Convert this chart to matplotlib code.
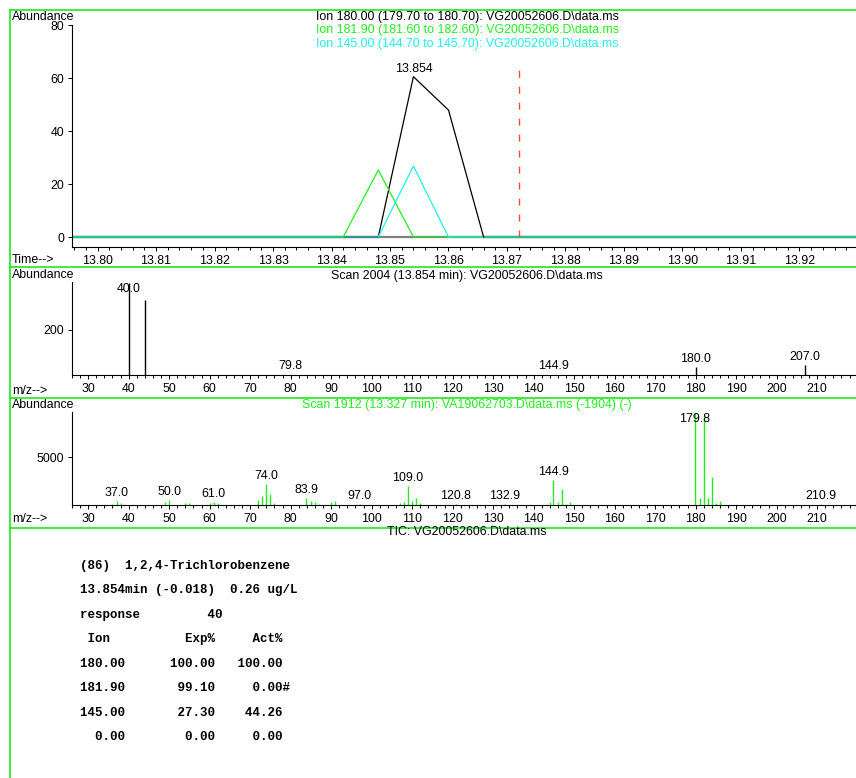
import numpy as np
import matplotlib
matplotlib.use("Agg")
import matplotlib.pyplot as plt
from matplotlib.lines import Line2D
from matplotlib.ticker import MultipleLocator, FormatStrFormatter

plt.rcParams['font.family'] = ['Liberation Sans', 'DejaVu Sans']

W, H = 856, 778

# extracted ion chromatograms (time in min, abundance)
scan_time = [13.794, 13.842, 13.848, 13.854, 13.860, 13.866, 13.932]
ion_180 = [0, 0, 0, 60.5, 47.9, 0, 0]
ion_181_9 = [0, 0, 25.3, 0, 0, 0, 0]
ion_145 = [0, 0, 0, 26.8, 0, 0, 0]
eic_titles = ["Ion 180.00 (179.70 to 180.70): VG20052606.D\\data.ms",
              "Ion 181.90 (181.60 to 182.60): VG20052606.D\\data.ms",
              "Ion 145.00 (144.70 to 145.70): VG20052606.D\\data.ms"]

# compound result
compound = "(86)  1,2,4-Trichlorobenzene"
rt_found = 13.854
rt_delta = -0.018
amount = 0.26
response = 40
qual_ions = [180.00, 181.90, 145.00, 0.00]
exp_pct = [100.00, 99.10, 27.30, 0.00]
act_pct = [100.00, 0.00, 44.26, 0.00]
qual_flag = ["", "#", "", ""]

# scan 2004 of the sample
scan_mz = [40.0, 44.0, 79.8, 144.9, 180.0, 207.0]
scan_ab = [410, 333, 2, 2, 37, 44]
scan_labels = [40.0, 79.8, 144.9, 180.0, 207.0]

# library reference scan 1912
ref_mz = [36, 37.0, 38, 49, 50.0, 54, 55, 60, 61.0, 62, 72, 73, 74.0, 75, 76,
          83.9, 85, 86, 87, 90, 91, 97.0, 107, 108, 109.0, 110, 111, 112,
          120.8, 132.9, 144, 144.9, 146, 147, 148, 149,
          179.8, 181, 182, 183, 184, 185, 186, 210.9]
ref_ab = [140, 420, 210, 315, 525, 245, 245, 245, 350, 175, 490, 960, 2240, 1155, 170,
          700, 385, 300, 130, 350, 370, 90, 180, 350, 2025, 420, 700, 170,
          60, 60, 315, 2620, 350, 1680, 140, 350,
          9780, 700, 9370, 700, 2970, 175, 420, 60]
ref_labels = [37.0, 50.0, 61.0, 74.0, 83.9, 97.0, 109.0, 120.8, 132.9, 144.9, 179.8, 210.9]

GREEN = '#22ee22'
CYAN = '#22eeee'
FS = 8.9


def fx(x):
    return x / W


def fy(y):
    return 1 - y / H


def panel(left, top, right, bottom):
    ax = fig.add_axes([fx(left), fy(bottom), (right - left) / W, (bottom - top) / H])
    ax.patch.set_alpha(0)
    for s in ('top', 'right'):
        ax.spines[s].set_visible(False)
    for s in ('left', 'bottom'):
        ax.spines[s].set_linewidth(0.8)
    ax.tick_params(which='major', direction='out', length=3, width=0.7, pad=2.5, labelsize=FS)
    ax.tick_params(which='minor', direction='out', length=2.5, width=0.7)
    return ax


def label_peaks(ax, mz, ab, labels, ymax):
    for m in labels:
        h = ab[mz.index(m)]
        if h > 0.85 * ymax:
            ax.annotate(f"{m:.1f}", (m, ymax), xytext=(0, -1), textcoords='offset points',
                        ha='center', va='top', fontsize=FS)
        else:
            ax.annotate(f"{m:.1f}", (m, h), xytext=(0, 1.5), textcoords='offset points',
                        ha='center', va='bottom', fontsize=FS)


fig = plt.figure(figsize=(W / 100, H / 100), dpi=100)

# --- ion chromatograms ---
ax1 = panel(72, 25, 856, 247)
t = np.array(scan_time)
ax1.axhline(0, color='#808080', lw=1.6, zorder=1)
for y, col in zip([ion_180, ion_181_9, ion_145], ['black', GREEN, CYAN]):
    y = np.array(y, dtype=float)
    ax1.plot(t, np.where(y == 0, 0.0, np.nan), color=col, lw=1.6, alpha=0.5,
             solid_capstyle='butt', zorder=2)
    nz = np.flatnonzero(y)
    sl = slice(nz[0] - 1, nz[-1] + 2)
    ax1.plot(t[sl], y[sl], color=col, lw=0.9, zorder=3)
expected_rt = rt_found - rt_delta
ax1.vlines(expected_rt, 0, 65.3, colors='#ff4444', lw=1.0, linestyles=(0, (5, 6.5)), zorder=4)
ax1.annotate(f"{rt_found:.3f}", (rt_found, max(ion_180)), xytext=(0, 1.5),
             textcoords='offset points', ha='center', va='bottom', fontsize=FS)
ax1.set_xlim(13.79564, 13.92966)
ax1.set_ylim(-3.77, 80)
ax1.set_yticks([0, 20, 40, 60, 80])
ax1.xaxis.set_major_locator(MultipleLocator(0.01))
ax1.xaxis.set_minor_locator(MultipleLocator(0.002))
ax1.xaxis.set_major_formatter(FormatStrFormatter('%.2f'))

# --- sample spectrum ---
ax2 = panel(72, 282, 856, 375)
ax2.vlines(scan_mz, 0, scan_ab, colors='black', lw=1.0)
ax2.set_xlim(26.0, 219.6)
ax2.set_ylim(0, 413)
ax2.set_yticks([200])
label_peaks(ax2, scan_mz, scan_ab, scan_labels, 413)

# --- library spectrum ---
ax3 = panel(72, 411.7, 856, 505)
ax3.vlines(ref_mz, 0, ref_ab, colors=GREEN, lw=1.0)
ax3.set_xlim(26.0, 219.6)
ax3.set_ylim(0, 9780)
ax3.set_yticks([5000])
label_peaks(ax3, ref_mz, ref_ab, ref_labels, 9780)

for ax in (ax2, ax3):
    ax.xaxis.set_major_locator(MultipleLocator(10))
    ax.xaxis.set_minor_locator(MultipleLocator(2))

# panel headings
for y in (17, 275.5, 405):
    fig.text(fx(12), fy(y), "Abundance", fontsize=FS, va='center', ha='left')
fig.text(fx(12), fy(260), "Time-->", fontsize=FS, va='center')
fig.text(fx(12), fy(391), "m/z-->", fontsize=FS, va='center')
fig.text(fx(12), fy(519), "m/z-->", fontsize=FS, va='center')

for i, (txt, col) in enumerate(zip(eic_titles, ['black', GREEN, CYAN])):
    fig.text(fx(467), fy(16.7 + 13.8 * i), txt, color=col, fontsize=FS, ha='center', va='center')
fig.text(fx(467), fy(275.5), "Scan 2004 (13.854 min): VG20052606.D\\data.ms",
         fontsize=FS, ha='center', va='center')
fig.text(fx(467), fy(405), "Scan 1912 (13.327 min): VA19062703.D\\data.ms (-1904) (-)",
         color=GREEN, fontsize=FS, ha='center', va='center')
fig.text(fx(467), fy(532), "TIC: VG20052606.D\\data.ms", fontsize=FS, ha='center', va='center')

# quantitation report
report = [compound,
          f"{rt_found:.3f}min ({rt_delta:.3f})  {amount:.2f} ug/L",
          f"{'response':<17}{response}",
          f"{'Ion':>4}{'Exp%':>14}{'Act%':>9}"]
for ion, e, a, flag in zip(qual_ions, exp_pct, act_pct, qual_flag):
    report.append(f"{ion:6.2f}{e:12.2f}{a:9.2f}{flag}")
for i, line in enumerate(report):
    fig.text(fx(80), fy(566 + 24.45 * i), line, family='Liberation Mono', weight='bold',
             fontsize=9, ha='left', va='center')

# green frame
frame = dict(transform=fig.transFigure, color='#1ee81e', lw=1.2)
fig.add_artist(Line2D([fx(10), 1], [fy(10), fy(10)], **frame))
fig.add_artist(Line2D([fx(10), fx(10)], [fy(10), 0], **frame))
for y in (266.5, 397.5, 527.5):
    fig.add_artist(Line2D([fx(10), 1], [fy(y), fy(y)], **frame))

fig.savefig("out.png", dpi=100)
